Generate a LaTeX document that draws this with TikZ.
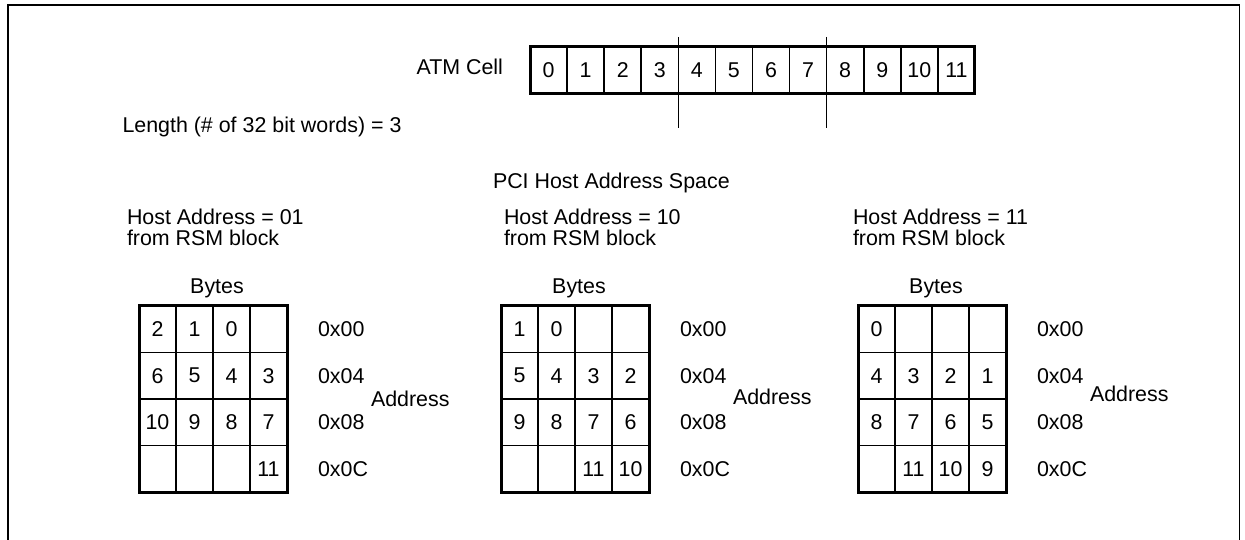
\documentclass[tikz,border=0pt]{standalone}
\usepackage{fontspec}
\setmainfont{Liberation Sans}
\tikzset{
  lbl/.style={font=\fontsize{21.4}{20}\selectfont, inner sep=0pt, outer sep=0pt},
  cellbox/.style={lbl, draw, line width=1.6pt, minimum width=37pt, minimum height=46.65pt},
  atmcell/.style={lbl, draw, line width=1.6pt, minimum width=37.08pt, minimum height=47pt},
  outline/.style={line width=3pt},
  tickline/.style={line width=1.5pt},
  framel/.style={line width=1.5pt},
}
% grid row: name, x0, row, four values
\newcommand\gridrow[7]{%
  \node[cellbox] (#1-#3-1) at ({#2+18.5},{305.7+46.65*(#3-0.5)}) {#4};
  \node[cellbox] (#1-#3-2) at ({#2+55.5},{305.7+46.65*(#3-0.5)}) {#5};
  \node[cellbox] (#1-#3-3) at ({#2+92.5},{305.7+46.65*(#3-0.5)}) {#6};
  \node[cellbox] (#1-#3-4) at ({#2+129.5},{305.7+46.65*(#3-0.5)}) {#7};
}
% address labels: name, x0, address-y
\newcommand\addrlabels[3]{%
  \node[lbl, anchor=west] (#1-a1) at ({#2+179},{305.7+46.65*0.5}) {0x00};
  \node[lbl, anchor=west] (#1-a2) at ({#2+179},{305.7+46.65*1.5}) {0x04};
  \node[lbl, anchor=west] (#1-a3) at ({#2+179},{305.7+46.65*2.5}) {0x08};
  \node[lbl, anchor=west] (#1-a4) at ({#2+179},{305.7+46.65*3.5}) {0x0C};
  \node[lbl, anchor=west] (#1-addr) at ({#2+232},#3) {Address};
  \node[lbl, anchor=base] (#1-bytes) at ({#2+78},293) {Bytes};
  \draw[outline] (#1-1-1.north west) rectangle (#1-4-4.south east);
}
\begin{document}
\begin{tikzpicture}[x=1pt, y=-1pt]
  \useasboundingbox (0,0) rectangle (1245,540);
  % frame
  \draw[framel] (8,541) -- (8,5) -- (1239.5,5) -- (1239.5,541);

  % ATM cell
  \node[lbl, anchor=base east] (atmlbl) at (503,75) {ATM Cell};
  \foreach \i in {0,...,11} {
    \node[atmcell] (a\i) at ({530+37.08*(\i+0.5)},70.5) {\i};
  }
  \draw[outline] (a0.north west) rectangle (a11.south east);
  \draw[tickline] (a3.north east) ++(0,-10) -- ++(0,91);
  \draw[tickline] (a7.north east) ++(0,-10) -- ++(0,91);

  \node[lbl, anchor=base west] (len) at (122.5,133) {Length (\# of 32 bit words) = 3};
  \node[lbl, anchor=base west] (pci) at (493,188.5) {PCI Host Address Space};

  % headings
  \node[lbl, anchor=base west] (h1a) at (127,225) {Host Address = 01};
  \node[lbl, anchor=base west] (h1b) at (127,245) {from RSM block};
  \node[lbl, anchor=base west] (h2a) at (504,225) {Host Address = 10};
  \node[lbl, anchor=base west] (h2b) at (504,245) {from RSM block};
  \node[lbl, anchor=base west] (h3a) at (853,225) {Host Address = 11};
  \node[lbl, anchor=base west] (h3b) at (853,245) {from RSM block};

  % grid 1
  \gridrow{ga}{139}{1}{2}{1}{0}{}
  \gridrow{ga}{139}{2}{6}{5}{4}{3}
  \gridrow{ga}{139}{3}{10}{9}{8}{7}
  \gridrow{ga}{139}{4}{}{}{}{11}
  \addrlabels{ga}{139}{399}

  % grid 2
  \gridrow{gb}{501}{1}{1}{0}{}{}
  \gridrow{gb}{501}{2}{5}{4}{3}{2}
  \gridrow{gb}{501}{3}{9}{8}{7}{6}
  \gridrow{gb}{501}{4}{}{}{11}{10}
  \addrlabels{gb}{501}{397}

  % grid 3
  \gridrow{gc}{858}{1}{0}{}{}{}
  \gridrow{gc}{858}{2}{4}{3}{2}{1}
  \gridrow{gc}{858}{3}{8}{7}{6}{5}
  \gridrow{gc}{858}{4}{}{11}{10}{9}
  \addrlabels{gc}{858}{394}
\end{tikzpicture}
\end{document}
